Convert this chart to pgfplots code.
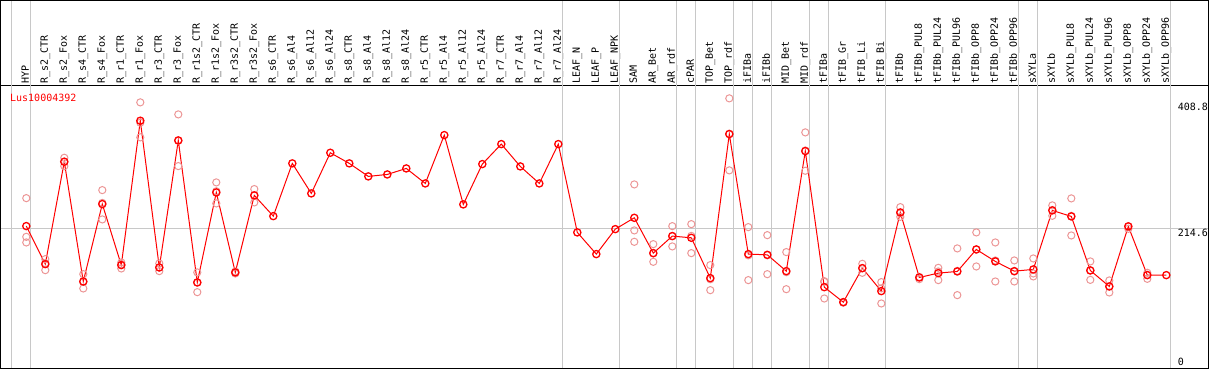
\documentclass[border=0pt]{standalone}
\usepackage{pgfplots}
\pgfplotsset{compat=1.18}
\usepackage{fontspec}
\setmainfont{DejaVu Sans Mono}
\setmonofont{DejaVu Sans Mono}
\definecolor{rep}{RGB}{236,150,150}
\definecolor{sepc}{RGB}{200,200,200}
\begin{document}
\begin{tikzpicture}
\begin{axis}[
  width=1207pt, height=282.7pt, scale only axis,
  xmin=-1.332, xmax=62.195, ymin=-1.4, ymax=435.5,
  clip=false,
  axis line style={black, line width=1pt},
  ytick=\empty,
  xtick={0.14,1.14,...,60.14},
  xticklabel pos=upper,
  major tick length=0pt,
  xticklabels={HYP,R\_s2\_CTR,R\_s2\_Fox,R\_s4\_CTR,R\_s4\_Fox,R\_r1\_CTR,R\_r1\_Fox,R\_r3\_CTR,R\_r3\_Fox,R\_r1s2\_CTR,R\_r1s2\_Fox,R\_r3s2\_CTR,R\_r3s2\_Fox,R\_s6\_CTR,R\_s6\_Al4,R\_s6\_Al12,R\_s6\_Al24,R\_s8\_CTR,R\_s8\_Al4,R\_s8\_Al12,R\_s8\_Al24,R\_r5\_CTR,R\_r5\_Al4,R\_r5\_Al12,R\_r5\_Al24,R\_r7\_CTR,R\_r7\_Al4,R\_r7\_Al12,R\_r7\_Al24,LEAF\_N,LEAF\_P,LEAF\_NPK,SAM,AR\_Bet,AR\_rdf,cPAR,TOP\_Bet,TOP\_rdf,iFIBa,iFIBb,MID\_Bet,MID\_rdf,tFIBa,tFIB\_Gr,tFIB\_Li,tFIB\_Bi,tFIBb,tFIBb\_PUL8,tFIBb\_PUL24,tFIBb\_PUL96,tFIBb\_OPP8,tFIBb\_OPP24,tFIBb\_OPP96,sXYLa,sXYLb,sXYLb\_PUL8,sXYLb\_PUL24,sXYLb\_PUL96,sXYLb\_OPP8,sXYLb\_OPP24,sXYLb\_OPP96},
  x tick label style={rotate=90, anchor=base west, inner sep=0pt, font=\fontsize{10}{12}\selectfont, yshift=0pt},
  xticklabel shift=2pt,
]
% bounding
\path (axis cs:-1.384,-4.48) rectangle (axis cs:62.247,567.6);
% separators
\pgfplotsinvokeforeach{-0.77,0.23,28.23,31.23,34.23,35.23,37.23,38.23,39.23,41.23,42.23,45.23,52.23,53.23,60.23}{
  \draw[sepc, line width=1pt] (axis cs:#1,-1.4) -- (axis cs:#1,566.8);
}
\draw[sepc, line width=1pt] (axis cs:-1.332,214.6) -- (axis cs:62.195,214.6);
% header frame
\draw[black, line width=1pt] (axis cs:-1.332,435.5) -- (axis cs:-1.332,566.8) -- (axis cs:62.195,566.8) -- (axis cs:62.195,435.5);
% labels
\node[anchor=west, inner sep=0pt, text=red, font=\fontsize{10}{12}\selectfont] at (axis cs:-0.86,417.1) {Lus10004392};
\node[anchor=west, inner sep=0pt, font=\fontsize{10}{12}\selectfont] at (axis cs:60.6,402.6) {408.8};
\node[anchor=west, inner sep=0pt, font=\fontsize{10}{12}\selectfont] at (axis cs:60.6,208.4) {214.6};
\node[anchor=west, inner sep=0pt, font=\fontsize{10}{12}\selectfont] at (axis cs:60.6,8.7) {0};
% replicates
\addplot[only marks, mark=o, mark size=3.6pt, mark options={draw=rep, line width=1pt}] coordinates {
(0,261.4)(0,201.6)(0,192.9)
(1,167.1)(1,150.1)(1,161)
(2,323.8)(2,310.9)(2,318)
(3,143.9)(3,121.8)(3,132)
(4,273.8)(4,228.5)(4,254)
(5,162)(5,152.7)(5,159)
(6,409.4)(6,355.3)(6,378)
(7,160.5)(7,148.6)(7,154)
(8,390.8)(8,310.9)(8,350)
(9,146.6)(9,116.1)(9,131)
(10,285.7)(10,253.2)(10,272)
(11,148)(11,145)
(12,275.4)(12,254.8)(12,266)
(32,282.6)(32,211.5)(32,193.9)
(33,190.3)(33,163)(33,176)
(34,218.1)(34,186.8)(34,203)
(35,221.2)(35,176.4)(35,203)
(36,157.9)(36,119.2)(36,136)
(37,415.6)(37,304.3)(37,361)
(38,216.6)(38,134.7)(38,173)
(39,204.2)(39,143.9)(39,173)
(40,178)(40,120.7)(40,147)
(41,363)(41,303.7)(41,335)
(42,133.1)(42,106.3)(42,132)
(43,99.8)(43,101)
(44,159.9)(44,146)(44,153)
(45,131.6)(45,98.6)(45,122)
(46,247.5)(46,232.5)(46,238)
(47,136.2)(47,139.6)
(48,153.7)(48,134.7)(48,148)
(49,183.7)(49,111.5)(49,149)
(50,208.4)(50,155.8)(50,182)
(51,192.9)(51,132.6)(51,165)
(52,165.1)(52,132.6)(52,148)
(53,168.2)(53,140.4)(53,145)
(54,250.2)(54,234.1)(54,243)
(55,261)(55,203.7)(55,234)
(56,163.6)(56,135.1)(56,150)
(57,134.2)(57,115.6)(57,125)
(58,214)(58,218)
(59,146)(59,136.7)(59,143)
};
% means
\addplot[red, line width=1pt, mark=o, mark size=3.6pt, mark options={draw=red, line width=1.3pt}] coordinates {
(0,218.2)(1,159.4)(2,317.6)(3,132.6)(4,252.2)(5,157.9)(6,381)(7,154.3)(8,350.6)(9,131.1)
(10,270.2)(11,146.6)(12,265.6)(13,233.6)(14,315.1)(15,268.7)(16,331.5)(17,315.1)(18,295)(19,298)
(20,307.3)(21,284.1)(22,358.8)(23,251.7)(24,314)(25,344.9)(26,310.4)(27,284.1)(28,344.9)(29,208.4)
(30,174.9)(31,213.5)(32,231)(33,176.4)(34,202.7)(35,200.1)(36,137.8)(37,360.4)(38,174.9)(39,173.8)
(40,148.6)(41,334.1)(42,123.8)(43,100.6)(44,153.2)(45,117.7)(46,239.3)(47,138.8)(48,145.5)(49,148.1)
(50,182.1)(51,163.6)(52,148.6)(53,151.2)(54,242.4)(55,233.1)(56,149.6)(57,124.9)(58,217.7)(59,142.4)
(60,142.4)
};
\end{axis}
\end{tikzpicture}
\end{document}
